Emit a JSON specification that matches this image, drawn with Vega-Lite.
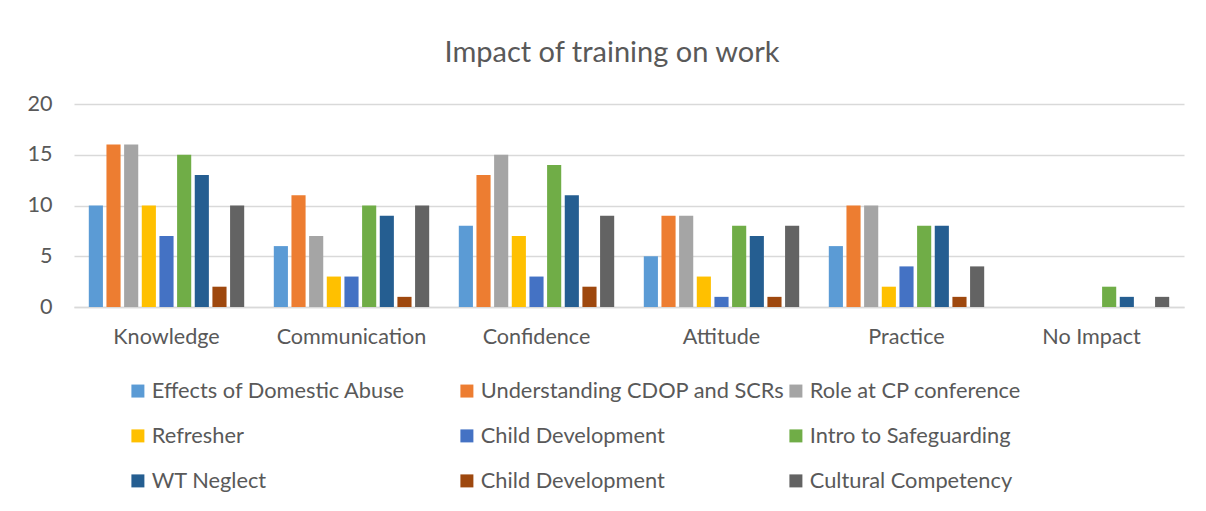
{
  "$schema": "https://vega.github.io/schema/vega-lite/v6.json",
  "width": 1110,
  "height": 203,
  "autosize": {"type": "none"},
  "padding": {"left": 74, "top": 104, "right": 22, "bottom": 204},
  "background": "white",
  "title": {
    "text": "Impact of training on work",
    "fontSize": 29,
    "font": "Lato",
    "fontWeight": "normal",
    "color": "#595959",
    "anchor": "middle",
    "offset": 25,
    "dx": -17
  },
  "data": {
    "values": [
      {"cat": "Knowledge", "s": "1|Effects of Domestic Abuse", "v": 10},
      {"cat": "Knowledge", "s": "2|Understanding CDOP and SCRs", "v": 16},
      {"cat": "Knowledge", "s": "3|Role at CP conference", "v": 16},
      {"cat": "Knowledge", "s": "4|Refresher", "v": 10},
      {"cat": "Knowledge", "s": "5|Child Development", "v": 7},
      {"cat": "Knowledge", "s": "6|Intro to Safeguarding", "v": 15},
      {"cat": "Knowledge", "s": "7|WT Neglect", "v": 13},
      {"cat": "Knowledge", "s": "8|Child Development", "v": 2},
      {"cat": "Knowledge", "s": "9|Cultural Competency", "v": 10},
      {"cat": "Communication", "s": "1|Effects of Domestic Abuse", "v": 6},
      {"cat": "Communication", "s": "2|Understanding CDOP and SCRs", "v": 11},
      {"cat": "Communication", "s": "3|Role at CP conference", "v": 7},
      {"cat": "Communication", "s": "4|Refresher", "v": 3},
      {"cat": "Communication", "s": "5|Child Development", "v": 3},
      {"cat": "Communication", "s": "6|Intro to Safeguarding", "v": 10},
      {"cat": "Communication", "s": "7|WT Neglect", "v": 9},
      {"cat": "Communication", "s": "8|Child Development", "v": 1},
      {"cat": "Communication", "s": "9|Cultural Competency", "v": 10},
      {"cat": "Confidence", "s": "1|Effects of Domestic Abuse", "v": 8},
      {"cat": "Confidence", "s": "2|Understanding CDOP and SCRs", "v": 13},
      {"cat": "Confidence", "s": "3|Role at CP conference", "v": 15},
      {"cat": "Confidence", "s": "4|Refresher", "v": 7},
      {"cat": "Confidence", "s": "5|Child Development", "v": 3},
      {"cat": "Confidence", "s": "6|Intro to Safeguarding", "v": 14},
      {"cat": "Confidence", "s": "7|WT Neglect", "v": 11},
      {"cat": "Confidence", "s": "8|Child Development", "v": 2},
      {"cat": "Confidence", "s": "9|Cultural Competency", "v": 9},
      {"cat": "Attitude", "s": "1|Effects of Domestic Abuse", "v": 5},
      {"cat": "Attitude", "s": "2|Understanding CDOP and SCRs", "v": 9},
      {"cat": "Attitude", "s": "3|Role at CP conference", "v": 9},
      {"cat": "Attitude", "s": "4|Refresher", "v": 3},
      {"cat": "Attitude", "s": "5|Child Development", "v": 1},
      {"cat": "Attitude", "s": "6|Intro to Safeguarding", "v": 8},
      {"cat": "Attitude", "s": "7|WT Neglect", "v": 7},
      {"cat": "Attitude", "s": "8|Child Development", "v": 1},
      {"cat": "Attitude", "s": "9|Cultural Competency", "v": 8},
      {"cat": "Practice", "s": "1|Effects of Domestic Abuse", "v": 6},
      {"cat": "Practice", "s": "2|Understanding CDOP and SCRs", "v": 10},
      {"cat": "Practice", "s": "3|Role at CP conference", "v": 10},
      {"cat": "Practice", "s": "4|Refresher", "v": 2},
      {"cat": "Practice", "s": "5|Child Development", "v": 4},
      {"cat": "Practice", "s": "6|Intro to Safeguarding", "v": 8},
      {"cat": "Practice", "s": "7|WT Neglect", "v": 8},
      {"cat": "Practice", "s": "8|Child Development", "v": 1},
      {"cat": "Practice", "s": "9|Cultural Competency", "v": 4},
      {"cat": "No Impact", "s": "1|Effects of Domestic Abuse", "v": 0},
      {"cat": "No Impact", "s": "2|Understanding CDOP and SCRs", "v": 0},
      {"cat": "No Impact", "s": "3|Role at CP conference", "v": 0},
      {"cat": "No Impact", "s": "4|Refresher", "v": 0},
      {"cat": "No Impact", "s": "5|Child Development", "v": 0},
      {"cat": "No Impact", "s": "6|Intro to Safeguarding", "v": 2},
      {"cat": "No Impact", "s": "7|WT Neglect", "v": 1},
      {"cat": "No Impact", "s": "8|Child Development", "v": 0},
      {"cat": "No Impact", "s": "9|Cultural Competency", "v": 1}
    ]
  },
  "mark": {"type": "bar"},
  "encoding": {
    "x": {
      "field": "cat",
      "type": "nominal",
      "sort": ["Knowledge", "Communication", "Confidence", "Attitude", "Practice", "No Impact"],
      "scale": {"paddingInner": 0.16, "paddingOuter": 0.08},
      "axis": {
        "title": null,
        "labelAngle": 0,
        "labelFont": "Lato",
        "labelFontSize": 21.6,
        "labelColor": "#595959",
        "labelPadding": 19,
        "ticks": false,
        "domainColor": "#d9d9d9",
        "domainWidth": 1.5
      }
    },
    "xOffset": {
      "field": "s",
      "type": "nominal",
      "scale": {"paddingInner": 0.2}
    },
    "y": {
      "field": "v",
      "type": "quantitative",
      "scale": {"domain": [0, 20]},
      "axis": {
        "title": null,
        "values": [0, 5, 10, 15, 20],
        "domain": false,
        "ticks": false,
        "gridColor": "#d9d9d9",
        "gridWidth": 1.5,
        "labelFont": "Lato",
        "labelFontSize": 21.6,
        "labelColor": "#595959",
        "labelPadding": 22
      }
    },
    "color": {
      "field": "s",
      "type": "nominal",
      "scale": {
        "range": ["#5B9BD5", "#ED7D31", "#A5A5A5", "#FFC000", "#4472C4", "#70AD47", "#255E91", "#9E480E", "#636363"]
      },
      "legend": {
        "title": null,
        "orient": "none",
        "legendX": 53,
        "legendY": 276,
        "padding": 0,
        "direction": "horizontal",
        "columns": 3,
        "gridAlign": "all",
        "columnPadding": -13,
        "rowPadding": 22,
        "symbolType": "square",
        "symbolSize": 169,
        "symbolStrokeWidth": 0,
        "labelOffset": 3,
        "labelFont": "Lato",
        "labelFontSize": 21.8,
        "labelColor": "#595959",
        "labelLimit": 308,
        "labelExpr": "split(datum.label, '|')[1]"
      }
    }
  },
  "config": {"view": {"stroke": null}}
}
